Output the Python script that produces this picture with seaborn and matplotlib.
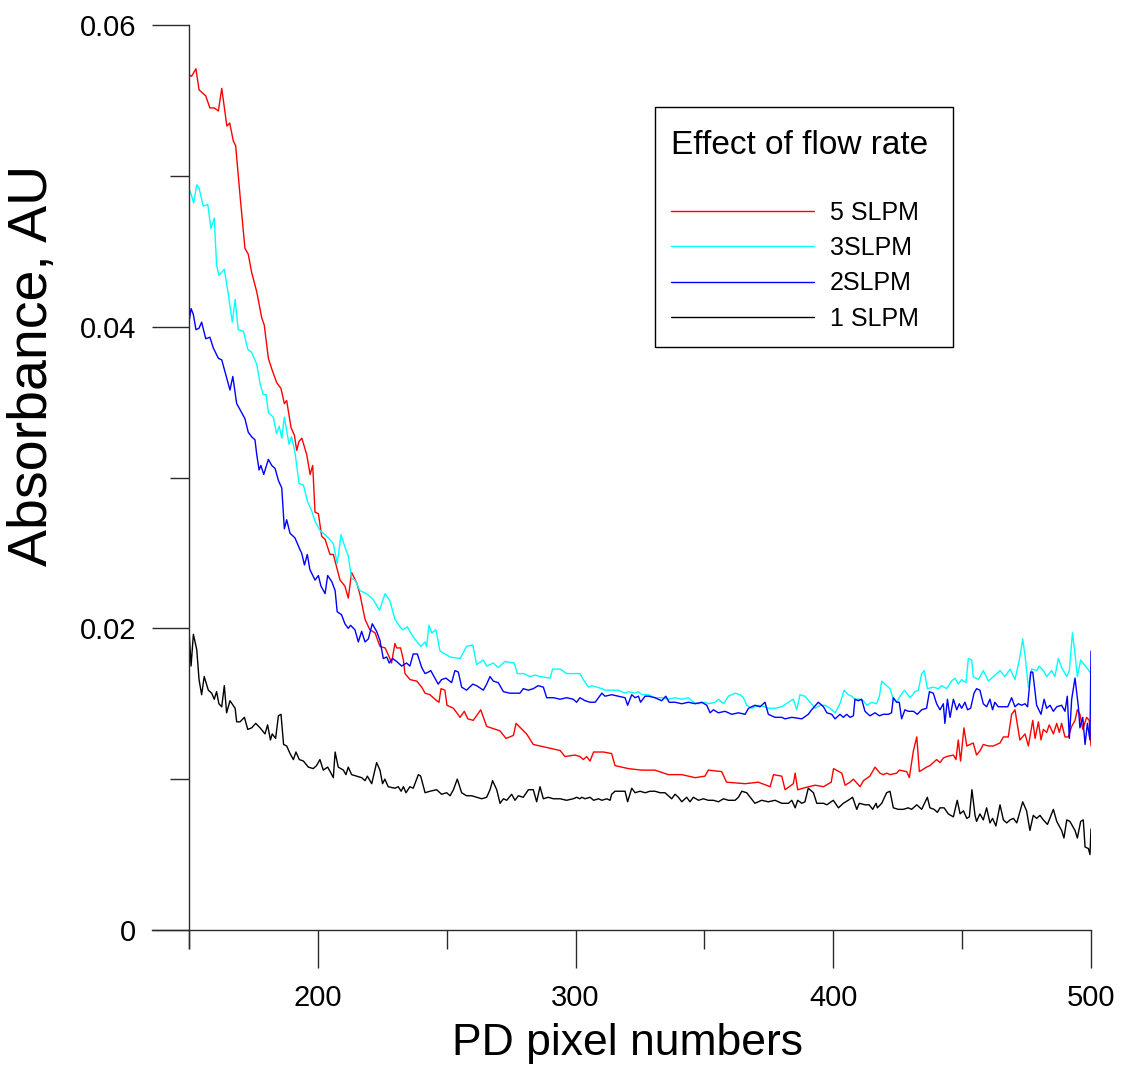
import matplotlib
matplotlib.use("Agg")
import matplotlib.pyplot as plt
import seaborn as sns
import pandas as pd
from matplotlib.ticker import FixedLocator, FuncFormatter
from matplotlib.offsetbox import VPacker, HPacker, DrawingArea

# ---------------- data ----------------
series_labels = ["5 SLPM", "3SLPM", "2SLPM", "1 SLPM"]
series_colors = ["#FF0000", "#00FFFF", "#0000FF", "#000000"]

red_x = [150.0, 151.0, 152.7, 153.9, 156.5, 158.1, 159.8, 161.4, 162.7, 164.7, 165.8, 167.2, 168.1, 169.8,
         171.7, 173.0, 174.3, 176.3, 178.2, 179.2, 180.8, 182.1, 184.0, 185.7, 187.0, 187.9, 189.6, 190.9,
         191.8, 192.7, 193.8, 195.7, 197.0, 198.0, 198.9, 200.2, 201.5, 202.8, 204.7, 206.0, 208.6, 210.5,
         211.8, 213.1, 215.1, 216.4, 218.3, 220.2, 222.2, 224.1, 226.1, 227.7, 228.6, 229.9, 230.6, 232.1,
         233.2, 233.8, 235.8, 238.4, 240.3, 241.6, 243.5, 246.1, 247.0, 247.8, 249.3, 250.1, 252.6, 255.2,
         256.8, 258.2, 260.3, 263.2, 265.5, 270.7, 273.0, 275.9, 276.9, 281.0, 283.6, 288.8, 294.0, 295.9,
         299.8, 301.7, 303.0, 304.3, 305.6, 307.0, 310.8, 314.0, 315.3, 320.5, 325.6, 330.8, 336.0, 341.2,
         346.4, 350.2, 351.5, 356.7, 358.6, 365.8, 370.9, 375.5, 376.8, 380.0, 381.3, 384.5, 385.2, 386.2,
         390.4, 393.0, 396.2, 399.2, 400.1, 403.3, 404.6, 406.5, 407.8, 410.4, 411.7, 414.2, 416.2, 418.1,
         419.4, 420.7, 422.0, 424.6, 425.6, 428.5, 429.5, 431.1, 432.4, 433.4, 436.2, 437.5, 440.1, 441.4,
         442.7, 444.0, 446.6, 447.6, 448.5, 449.4, 450.7, 451.8, 454.3, 455.6, 457.0, 458.2, 460.2, 462.1,
         464.7, 466.0, 467.9, 469.2, 470.5, 472.4, 474.4, 475.7, 477.4, 478.3, 479.6, 480.6, 481.5, 482.8,
         483.8, 485.4, 486.7, 487.7, 488.6, 489.9, 491.2, 492.5, 493.8, 494.7, 495.7, 496.8, 498.3, 499.3,
         500.0]
red_y = [.0567, .0566, .0571, .0557, .0553, .0545, .0545, .0543, .0558, .0533, .0535, .0523, .0520, .0487,
         .0452, .0448, .0436, .0423, .0406, .0401, .0379, .0372, .0363, .0359, .0349, .0351, .0333, .0328,
         .0318, .0324, .0326, .0315, .0302, .0308, .0277, .0276, .0261, .0259, .0249, .0249, .0232, .0228,
         .0220, .0237, .0230, .0222, .0206, .0199, .0197, .0188, .0187, .0181, .0177, .0190, .0187, .0187,
         .0179, .0170, .0166, .0165, .0161, .0157, .0156, .0152, .0151, .0160, .0159, .0149, .0147, .0141,
         .0145, .0140, .0139, .0146, .0135, .0132, .0127, .0129, .0137, .0130, .0123, .0121, .0119, .0115,
         .0116, .0115, .0113, .0115, .0112, .0118, .0118, .0117, .0109, .0107, .0106, .0106, .0103, .0103,
         .0101, .0102, .0106, .0105, .0098, .0097, .0098, .0095, .0103, .0102, .0093, .0097, .0104, .0093,
         .0095, .0096, .0095, .0098, .0107, .0104, .0096, .0098, .0100, .0095, .0099, .0102, .0108, .0104,
         .0103, .0104, .0103, .0104, .0106, .0105, .0101, .0119, .0128, .0105, .0108, .0109, .0113, .0111,
         .0114, .0115, .0116, .0113, .0126, .0112, .0134, .0122, .0124, .0116, .0119, .0123, .0122, .0122,
         .0124, .0128, .0128, .0143, .0146, .0126, .0130, .0122, .0139, .0127, .0138, .0126, .0133, .0131,
         .0136, .0130, .0137, .0131, .0137, .0128, .0128, .0135, .0139, .0146, .0143, .0133, .0141, .0139,
         .0122]

cyan_x = [150.0, 150.8, 151.8, 153.0, 153.9, 155.5, 157.3, 158.5, 159.8, 160.7, 161.6, 163.7, 165.3, 166.8,
          167.9, 169.1, 171.1, 172.8, 174.3, 176.3, 177.6, 178.8, 179.9, 180.8, 182.7, 184.0, 185.0, 186.0,
          187.0, 188.8, 189.8, 191.1, 192.7, 194.4, 196.0, 197.6, 198.9, 200.8, 202.1, 204.1, 206.0, 207.5,
          209.0, 210.5, 211.8, 213.1, 214.4, 216.3, 218.9, 221.5, 223.9, 226.1, 228.0, 229.9, 231.9, 232.9,
          234.7, 236.0, 238.0, 240.0, 241.6, 242.2, 243.1, 244.2, 245.8, 247.4, 249.3, 251.3, 255.2, 257.7,
          260.1, 261.6, 264.2, 265.5, 268.1, 270.0, 272.6, 276.2, 277.4, 280.0, 282.3, 284.2, 286.2, 290.1,
          291.1, 294.0, 296.5, 299.1, 301.7, 303.0, 305.0, 306.3, 308.2, 310.2, 311.4, 314.0, 316.6, 319.2,
          320.5, 323.1, 324.4, 325.7, 328.3, 330.8, 333.4, 336.0, 338.6, 341.2, 343.8, 345.7, 347.7, 350.2,
          351.5, 354.1, 355.4, 357.4, 359.3, 361.9, 363.8, 365.1, 366.4, 368.4, 370.9, 373.5, 374.8, 377.4,
          380.0, 382.6, 384.5, 385.8, 387.1, 389.0, 391.0, 393.0, 394.9, 396.8, 398.8, 400.7, 402.6, 404.2,
          405.8, 407.1, 408.4, 410.4, 411.7, 413.0, 414.9, 416.8, 417.9, 418.8, 420.7, 422.0, 423.3, 424.6,
          425.9, 427.6, 429.8, 431.7, 433.0, 434.3, 435.3, 436.5, 438.8, 440.8, 442.0, 444.0, 445.9, 447.2,
          448.5, 449.8, 451.5, 452.4, 453.7, 454.3, 456.3, 458.2, 460.2, 462.1, 464.7, 466.6, 468.6, 470.5,
          472.4, 473.5, 474.4, 475.7, 477.0, 478.9, 479.9, 481.5, 482.8, 484.7, 486.0, 487.3, 488.6, 490.6,
          491.6, 492.8, 493.8, 494.7, 496.0, 498.3, 500.0]
cyan_y = [.0491, .0488, .0482, .0494, .0492, .0480, .0481, .0465, .0472, .0441, .0434, .0438, .0421, .0403,
          .0418, .0398, .0397, .0385, .0383, .0375, .0362, .0355, .0355, .0343, .0340, .0329, .0334, .0326,
          .0340, .0322, .0327, .0317, .0296, .0295, .0284, .0278, .0271, .0265, .0263, .0260, .0256, .0243,
          .0262, .0254, .0248, .0233, .0232, .0225, .0223, .0219, .0212, .0223, .0218, .0206, .0201, .0199,
          .0201, .0197, .0192, .0188, .0191, .0188, .0202, .0197, .0199, .0185, .0183, .0181, .0180, .0188,
          .0189, .0176, .0179, .0175, .0177, .0174, .0178, .0177, .0170, .0170, .0168, .0169, .0168, .0167,
          .0173, .0173, .0170, .0170, .0170, .0166, .0161, .0162, .0161, .0160, .0159, .0159, .0159, .0157,
          .0158, .0157, .0158, .0156, .0156, .0154, .0154, .0153, .0154, .0153, .0154, .0151, .0150, .0151,
          .0150, .0151, .0153, .0150, .0155, .0157, .0156, .0154, .0149, .0147, .0149, .0148, .0147, .0147,
          .0148, .0151, .0153, .0146, .0156, .0155, .0151, .0147, .0149, .0149, .0147, .0144, .0150, .0159,
          .0156, .0155, .0153, .0153, .0152, .0149, .0151, .0150, .0155, .0165, .0162, .0160, .0153, .0151,
          .0155, .0159, .0154, .0158, .0159, .0170, .0172, .0160, .0161, .0160, .0162, .0160, .0165, .0167,
          .0163, .0166, .0164, .0180, .0179, .0168, .0166, .0172, .0165, .0168, .0172, .0168, .0173, .0166,
          .0181, .0193, .0182, .0161, .0173, .0172, .0175, .0172, .0168, .0172, .0168, .0180, .0174, .0168,
          .0172, .0197, .0183, .0168, .0179, .0174, .0170]

blue_x = [150.0, 150.8, 151.7, 152.7, 153.9, 154.9, 156.5, 158.1, 159.4, 161.4, 162.7, 164.6, 165.9, 167.0,
          168.5, 169.8, 171.7, 173.0, 174.3, 175.6, 176.3, 177.2, 177.9, 179.0, 180.8, 182.1, 183.4, 184.7,
          186.0, 187.0, 187.9, 189.2, 191.1, 193.1, 193.7, 194.8, 195.9, 196.9, 198.9, 200.2, 201.2, 202.8,
          203.8, 205.4, 206.7, 207.5, 209.2, 210.5, 211.8, 212.7, 214.4, 215.7, 217.0, 218.3, 219.6, 221.1,
          222.8, 224.1, 225.4, 226.7, 227.7, 229.0, 230.6, 232.5, 234.4, 235.7, 237.0, 238.6, 240.3, 241.6,
          242.9, 243.8, 245.1, 246.7, 248.0, 249.7, 251.9, 253.2, 254.5, 255.8, 257.7, 260.1, 261.6, 264.2,
          265.5, 266.8, 268.1, 270.0, 272.0, 274.5, 276.5, 278.4, 279.7, 281.7, 283.6, 285.5, 287.5, 288.8,
          291.4, 294.0, 296.5, 299.1, 300.4, 301.7, 303.7, 305.6, 307.6, 308.9, 310.2, 311.4, 314.0, 316.6,
          319.2, 320.2, 321.8, 323.1, 324.4, 325.2, 327.0, 328.3, 330.8, 333.4, 335.0, 336.3, 338.6, 341.2,
          343.8, 346.4, 349.0, 350.9, 352.2, 353.5, 355.4, 358.0, 360.6, 363.2, 365.8, 367.1, 369.6, 371.6,
          373.5, 374.8, 377.4, 380.0, 381.3, 383.9, 387.8, 390.3, 391.6, 394.2, 396.2, 397.5, 399.4, 400.7,
          402.6, 403.9, 405.2, 406.5, 407.8, 408.4, 409.7, 411.0, 412.3, 414.2, 416.2, 417.9, 419.4, 421.4,
          422.6, 423.3, 424.6, 425.6, 426.5, 427.8, 429.1, 431.1, 432.6, 434.3, 436.2, 437.3, 438.8, 440.1,
          441.4, 442.7, 443.3, 444.3, 445.3, 446.6, 447.9, 448.9, 449.8, 451.1, 452.1, 453.3, 454.6, 455.6,
          456.9, 458.2, 459.5, 460.8, 461.8, 462.7, 464.0, 466.0, 467.7, 469.2, 470.5, 471.8, 473.1, 474.4,
          475.4, 476.6, 477.4, 478.9, 480.6, 481.8, 482.8, 484.1, 485.4, 486.7, 488.6, 489.9, 490.8, 491.6,
          492.5, 493.8, 495.1, 495.7, 496.8, 497.7, 498.6, 499.6, 500.0]
blue_y = [.0403, .0412, .0408, .0398, .0399, .0403, .0392, .0393, .0386, .0379, .0378, .0366, .0358, .0367,
          .0349, .0345, .0339, .0330, .0327, .0325, .0315, .0305, .0308, .0302, .0312, .0308, .0306, .0298,
          .0293, .0266, .0272, .0263, .0260, .0252, .0250, .0242, .0249, .0239, .0232, .0235, .0228, .0223,
          .0235, .0231, .0225, .0211, .0209, .0203, .0200, .0202, .0199, .0191, .0198, .0191, .0193, .0203,
          .0198, .0192, .0180, .0181, .0177, .0180, .0178, .0175, .0177, .0175, .0183, .0183, .0174, .0170,
          .0171, .0172, .0168, .0163, .0166, .0167, .0164, .0172, .0171, .0161, .0159, .0163, .0162, .0159,
          .0163, .0168, .0165, .0164, .0158, .0157, .0157, .0157, .0160, .0159, .0160, .0162, .0161, .0154,
          .0154, .0153, .0154, .0153, .0151, .0154, .0152, .0151, .0151, .0154, .0157, .0155, .0156, .0155,
          .0154, .0149, .0156, .0154, .0155, .0151, .0155, .0155, .0154, .0152, .0155, .0151, .0151, .0150,
          .0151, .0150, .0151, .0149, .0144, .0146, .0144, .0145, .0143, .0144, .0143, .0147, .0149, .0148,
          .0151, .0143, .0141, .0141, .0140, .0141, .0140, .0143, .0146, .0151, .0148, .0144, .0143, .0140,
          .0143, .0141, .0143, .0141, .0142, .0153, .0152, .0153, .0145, .0142, .0144, .0142, .0143, .0143,
          .0144, .0154, .0151, .0151, .0140, .0146, .0145, .0145, .0143, .0146, .0147, .0158, .0157, .0150,
          .0146, .0150, .0137, .0153, .0141, .0153, .0146, .0150, .0147, .0151, .0146, .0147, .0157, .0160,
          .0159, .0150, .0148, .0153, .0146, .0151, .0148, .0148, .0148, .0154, .0148, .0150, .0149, .0150,
          .0148, .0171, .0171, .0149, .0143, .0153, .0147, .0149, .0145, .0148, .0149, .0145, .0155, .0127,
          .0153, .0167, .0148, .0134, .0141, .0123, .0137, .0126, .0185]

black_x = [150.0, 150.8, 151.7, 153.0, 153.9, 154.9, 155.9, 157.5, 158.8, 159.8, 160.7, 161.6, 162.7, 163.7,
           164.6, 165.9, 167.9, 168.5, 169.8, 171.5, 172.8, 174.3, 175.9, 177.6, 179.5, 180.5, 181.6, 182.3,
           183.6, 184.7, 185.7, 186.7, 187.9, 189.2, 190.5, 191.5, 192.8, 194.4, 196.3, 198.2, 199.5, 200.8,
           202.1, 203.8, 205.1, 206.0, 206.7, 207.9, 209.9, 210.9, 211.8, 213.1, 215.0, 217.0, 218.3, 219.2,
           220.9, 222.8, 224.1, 225.1, 226.0, 227.3, 229.9, 231.2, 232.3, 233.2, 234.2, 235.7, 237.0, 239.0,
           239.9, 241.6, 243.5, 246.1, 248.0, 250.0, 251.3, 252.6, 254.1, 255.8, 257.7, 259.7, 261.6, 263.6,
           265.5, 266.8, 267.8, 269.4, 270.7, 272.0, 273.3, 275.2, 276.5, 277.8, 279.7, 281.7, 283.6, 284.9,
           286.2, 287.5, 289.4, 291.4, 294.0, 296.5, 299.1, 300.4, 301.7, 302.4, 303.7, 305.6, 307.0, 308.9,
           310.2, 312.1, 313.4, 314.0, 315.3, 319.2, 320.2, 321.8, 323.1, 325.0, 327.0, 328.9, 330.8, 332.8,
           334.7, 337.3, 338.6, 339.9, 341.2, 343.1, 344.4, 345.7, 347.7, 349.6, 351.5, 353.5, 355.4, 357.4,
           359.3, 361.9, 363.2, 364.5, 366.4, 369.6, 372.2, 374.8, 377.4, 380.0, 382.6, 383.9, 385.2, 386.2,
           387.8, 389.0, 390.3, 392.3, 393.6, 396.2, 397.5, 400.0, 402.0, 403.9, 405.8, 407.5, 409.1, 410.1,
           412.3, 413.9, 415.3, 416.6, 417.1, 418.8, 420.7, 422.0, 423.3, 425.2, 427.2, 429.1, 430.4, 432.4,
           434.3, 436.5, 437.5, 439.1, 440.4, 441.4, 443.0, 444.6, 446.6, 448.1, 449.2, 450.5, 451.8, 452.8,
           453.8, 455.0, 455.6, 456.9, 458.2, 459.5, 460.8, 461.8, 463.1, 464.7, 466.0, 467.3, 468.6, 469.9,
           471.2, 473.5, 475.0, 476.3, 477.6, 478.9, 480.2, 481.5, 483.1, 485.4, 486.7, 488.6, 489.5, 490.6,
           491.8, 493.8, 494.7, 496.0, 497.0, 497.7, 499.0, 499.6, 500.0]
black_y = [.0199, .0175, .0196, .0186, .0166, .0156, .0168, .0159, .0157, .0153, .0158, .0150, .0148, .0162,
           .0144, .0152, .0147, .0138, .0138, .0141, .0133, .0134, .0137, .0134, .0130, .0136, .0126, .0130,
           .0127, .0142, .0143, .0123, .0122, .0117, .0113, .0118, .0113, .0112, .0108, .0107, .0109, .0113,
           .0106, .0108, .0104, .0101, .0118, .0108, .0106, .0103, .0108, .0103, .0102, .0101, .0099, .0102,
           .0097, .0111, .0106, .0097, .0100, .0095, .0094, .0095, .0092, .0095, .0091, .0095, .0094, .0103,
           .0102, .0091, .0092, .0093, .0090, .0091, .0089, .0093, .0100, .0091, .0089, .0089, .0088, .0087,
           .0088, .0093, .0099, .0093, .0084, .0087, .0086, .0090, .0086, .0089, .0088, .0093, .0093, .0085,
           .0095, .0087, .0088, .0087, .0087, .0086, .0087, .0088, .0087, .0088, .0087, .0088, .0086, .0087,
           .0086, .0087, .0086, .0090, .0092, .0092, .0085, .0094, .0091, .0092, .0091, .0092, .0092, .0091,
           .0091, .0087, .0090, .0088, .0085, .0088, .0085, .0088, .0086, .0087, .0086, .0086, .0085, .0087,
           .0086, .0086, .0088, .0092, .0091, .0084, .0086, .0085, .0086, .0084, .0084, .0086, .0081, .0086,
           .0084, .0085, .0094, .0091, .0084, .0084, .0083, .0086, .0081, .0084, .0086, .0088, .0080, .0084,
           .0083, .0083, .0080, .0084, .0081, .0084, .0091, .0092, .0081, .0080, .0080, .0081, .0080, .0083,
           .0080, .0088, .0081, .0080, .0078, .0081, .0081, .0077, .0075, .0086, .0077, .0079, .0074, .0075,
           .0093, .0076, .0072, .0077, .0073, .0081, .0071, .0074, .0069, .0083, .0073, .0071, .0073, .0074,
           .0071, .0085, .0079, .0066, .0076, .0074, .0076, .0073, .0070, .0080, .0072, .0066, .0061, .0073,
           .0072, .0066, .0061, .0072, .0073, .0055, .0054, .0050, .0067]

x_major = [200, 300, 400, 500]
x_minor = [150, 250, 350, 450]
y_major = [0, 0.02, 0.04, 0.06]
y_minor = [0.01, 0.03, 0.05]

# ---------------- style ----------------
sns.set_theme(style="ticks")
plt.rcParams["font.family"] = ["Liberation Sans", "DejaVu Sans"]
plt.rcParams["text.color"] = "black"
plt.rcParams["axes.labelcolor"] = "black"

W, H = 1122, 1068
fig = plt.figure(figsize=(W / 100, H / 100), dpi=100)
ax = fig.add_axes([189 / W, 1 - 930 / H, (1091 - 189) / W, (930 - 25) / H])

frames = []
for lab, xs, ys in zip(series_labels,
                       [red_x, cyan_x, blue_x, black_x],
                       [red_y, cyan_y, blue_y, black_y]):
    frames.append(pd.DataFrame({"pixel": xs, "absorbance": ys, "series": lab}))
df = pd.concat(frames, ignore_index=True)

sns.lineplot(data=df, x="pixel", y="absorbance", hue="series", hue_order=series_labels,
             palette=dict(zip(series_labels, series_colors)), estimator=None, sort=False,
             units="series", linewidth=1.0, ax=ax, legend=True)

ax.set_xlim(150, 500)
ax.set_ylim(0, 0.06)

axis_col = "#2b2b2b"
for s in ["top", "right"]:
    ax.spines[s].set_visible(False)
for s in ["left", "bottom"]:
    ax.spines[s].set_color(axis_col)
    ax.spines[s].set_linewidth(1.0)
ax.spines["left"].set_bounds(-0.0012, 0.06)
ax.spines["bottom"].set_bounds(135.6, 500)

ax.xaxis.set_major_locator(FixedLocator(x_major))
ax.xaxis.set_minor_locator(FixedLocator(x_minor))
ax.yaxis.set_major_locator(FixedLocator(y_major))
ax.yaxis.set_minor_locator(FixedLocator(y_minor))
ax.yaxis.set_major_formatter(FuncFormatter(lambda v, p: "0" if v == 0 else f"{v:.2f}"))
ax.xaxis.set_major_formatter(FuncFormatter(lambda v, p: f"{v:.0f}"))

ax.tick_params(axis="both", which="major", direction="out", length=27, width=1.0,
               color=axis_col, labelsize=21, labelcolor="black")
ax.tick_params(axis="both", which="minor", direction="out", length=14, width=1.0, color=axis_col)
ax.tick_params(axis="y", which="major", pad=11)
ax.tick_params(axis="x", which="major", pad=12)

ax.set_xlabel("PD pixel numbers", fontsize=32, va="center", ha="center", color="black")
ax.xaxis.set_label_coords(0.486, -0.125)
ax.set_ylabel("Absorbance, AU", fontsize=40, va="center", ha="center", rotation=90, color="black")
ax.yaxis.set_label_coords(-0.173, 0.624)

# legend
handles, labels = ax.get_legend_handles_labels()
order = [labels.index(l) for l in series_labels]
handles = [handles[i] for i in order]
labels = [labels[i] for i in order]
if ax.get_legend():
    ax.get_legend().remove()
leg = fig.legend(handles, labels, title="Effect of flow rate", loc="upper left",
                 bbox_to_anchor=(655 / W, 1 - 107 / H), bbox_transform=fig.transFigure,
                 borderaxespad=0, fontsize=18, title_fontsize=24, alignment="left",
                 handlelength=5.7, handletextpad=0.64, labelspacing=0.45, borderpad=0.65,
                 frameon=True, fancybox=False, framealpha=1, edgecolor="black",
                 labelcolor="black")
leg.get_title().set_color("black")
leg.get_frame().set_linewidth(1.0)
for h in leg.legend_handles:
    h.set_linewidth(1.0)
# extra space above / right of the title and between the title and the entries
title_box = leg._legend_box._children[0]
title_row = HPacker(children=[title_box, DrawingArea(6, 1)], pad=0, sep=0, align="center")
leg._legend_box._children[0] = VPacker(children=[DrawingArea(1, 5), title_row],
                                       pad=0, sep=0, align="left")
leg._legend_box.sep = 28.5

fig.savefig("out.png", dpi=100)
